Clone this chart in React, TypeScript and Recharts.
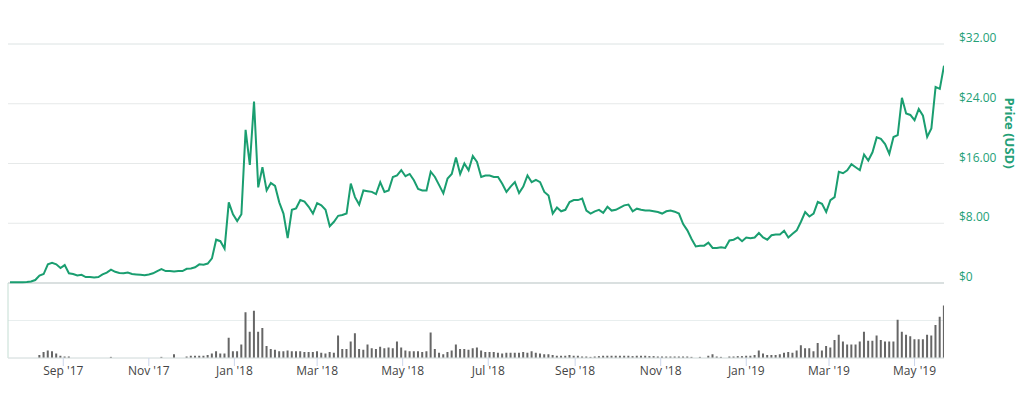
import React from 'react';
import { ComposedChart, Line, Bar, XAxis, YAxis, CartesianGrid, ReferenceLine } from 'recharts';

const DAY = 86400000;
const START = Date.parse('2017-07-25');
const STEP_DAYS = 3;

const prices: number[] = [
  0.1, 0.1, 0.1, 0.1, 0.12, 0.2, 0.4, 1.0, 1.2, 2.5,
  2.7, 2.5, 2.0, 2.4, 1.3, 1.2, 1.0, 1.1, 0.8, 0.8,
  0.75, 0.8, 1.15, 1.4, 1.8, 1.5, 1.35, 1.3, 1.4, 1.2,
  1.15, 1.1, 1.05, 1.15, 1.3, 1.6, 1.85, 1.6, 1.6, 1.55,
  1.6, 1.6, 1.9, 1.95, 2.1, 2.5, 2.45, 2.6, 3.3, 5.8,
  5.6, 4.6, 10.8, 9.2, 8.3, 9.2, 20.5, 15.8, 24.3, 12.8,
  15.5, 12.4, 13.4, 13.0, 10.8, 9.3, 6.0, 9.8, 10.0, 11.1,
  10.9, 10.2, 9.3, 10.7, 10.4, 9.8, 7.6, 8.2, 9.0, 9.1,
  9.3, 13.3, 11.5, 10.5, 12.4, 12.3, 12.2, 11.9, 13.5, 12.2,
  12.4, 14.2, 14.4, 15.1, 14.3, 14.6, 13.75, 12.6, 12.4, 12.4,
  14.9, 14.2, 13.1, 12.0, 14.0, 14.6, 16.8, 14.6, 16.0, 15.1,
  17.0, 16.2, 14.2, 14.4, 14.4, 14.2, 14.2, 13.3, 12.2, 12.9,
  13.5, 12.05, 12.9, 14.4, 13.5, 13.8, 13.5, 12.2, 11.7, 9.3,
  10.1, 9.6, 9.8, 10.85, 11.1, 11.1, 11.3, 9.7, 9.3, 9.6,
  9.8, 9.4, 10.2, 9.7, 9.8, 10.1, 10.4, 10.5, 9.6, 9.95,
  9.8, 9.7, 9.7, 9.6, 9.5, 9.3, 9.6, 9.7, 9.55, 9.3,
  7.9, 7.05, 5.9, 4.9, 5.0, 5.0, 5.4, 4.7, 4.7, 4.8,
  4.7, 5.7, 5.8, 6.1, 5.6, 6.1, 6.0, 6.1, 6.7, 6.1,
  5.8, 6.4, 6.5, 6.5, 7.0, 6.1, 6.6, 7.05, 8.2, 9.5,
  8.9, 9.3, 10.85, 10.6, 9.5, 11.1, 11.5, 14.9, 14.7, 15.1,
  15.9, 15.5, 15.1, 17.2, 16.4, 17.5, 19.5, 19.3, 18.6, 17.3,
  19.55, 19.8, 24.8, 22.7, 22.5, 21.8, 23.3, 22.4, 19.55, 20.7,
  26.25, 26.0, 29.1,
];

const volumes: number[] = [
  0, 0, 0, 0, 0, 0, 0, 4, 8, 10,
  9, 6, 3, 2, 2, 0, 0, 0, 0, 0,
  0, 0, 0, 0, 1.5, 0, 0, 0, 0, 0,
  0, 0, 0, 0, 0, 0, 1.5, 0, 0, 5,
  0, 0, 2, 3, 3, 3, 3, 4, 6, 9,
  6, 6, 27, 9, 9, 18, 61, 35, 63, 35,
  40, 16, 12, 11, 9, 9, 10, 9, 9, 9,
  8, 8, 8, 9, 7, 6, 8, 7, 30, 12,
  12, 22, 33, 12, 11, 18, 13, 12, 15, 13,
  14, 13, 22, 14, 10, 9, 9, 9, 8, 9,
  34, 12, 7, 5, 8, 10, 18, 12, 12, 11,
  13, 14, 10, 8, 8, 8, 7, 6, 7, 7,
  7, 7, 8, 7, 9, 7, 6, 5, 5, 4,
  3, 3, 3, 4, 3, 3, 2, 2, 1.5, 2,
  2.5, 3, 3, 3, 3, 3, 3, 3, 2.5, 3,
  3, 3, 2.5, 2.5, 2, 2, 2, 2, 2, 2,
  2, 2, 1.5, 0, 1.5, 0, 3, 5, 2, 1.5,
  0, 2, 2, 2.5, 2.5, 3, 3, 4, 10, 6,
  4, 4, 4, 5, 7, 8, 7, 10, 17, 13,
  13, 9, 20, 10, 16, 14, 24, 31, 22, 18,
  18, 18, 22, 35, 23, 23, 30, 24, 22, 22,
  22, 51, 35, 31, 29, 25, 25, 25, 31, 30,
  44, 55, 70,
];

const tickDates = [
  '2017-09-01', '2017-11-01', '2018-01-01', '2018-03-01', '2018-05-01', '2018-07-01',
  '2018-09-01', '2018-11-01', '2019-01-01', '2019-03-01', '2019-05-01',
];
const tickLabels = [
  "Sep '17", "Nov '17", "Jan '18", "Mar '18", "May '18", "Jul '18",
  "Sep '18", "Nov '18", "Jan '19", "Mar '19", "May '19",
];
const priceTicks = [0, 8, 16, 24, 32];
const priceTickLabels = ['$0', '$8.00', '$16.00', '$24.00', '$32.00'];
const volumeTicks = [0, 50];

const data = prices.map((p, i) => ({ t: START + i * STEP_DAYS * DAY, price: p, volume: volumes[i] }));
const END = data[data.length - 1].t;
const tickTimes = tickDates.map((d) => Date.parse(d));
const X_DOMAIN: [number, number] = [START - 1.43 * DAY, END];

const GREEN = '#1a9e70';
const LABEL_GREEN = '#24a077';
const FONT = "'Open Sans', 'DejaVu Sans', sans-serif";

const PriceTick = (props: any) => {
  const { x, y, payload } = props;
  const idx = priceTicks.indexOf(payload.value);
  return (
    <text x={x} y={y - 6} dy="0.35em" textAnchor="start" fill={LABEL_GREEN} fontSize={12} fontFamily={FONT}>
      {idx >= 0 ? priceTickLabels[idx] : ''}
    </text>
  );
};

const PriceLabel = (props: any) => {
  const vb = props.viewBox || { x: 944, y: 44 };
  const cx = vb.x + 66;
  const cy = vb.y + 89;
  return (
    <text
      x={cx}
      y={cy}
      transform={`rotate(90, ${cx}, ${cy})`}
      textAnchor="middle"
      dominantBaseline="central"
      fill={LABEL_GREEN}
      fontSize={13}
      fontWeight={700}
      fontFamily={FONT}
    >
      Price (USD)
    </text>
  );
};

export default function App() {
  return (
    <div style={{ position: 'absolute', left: 0, top: 0, width: 1024, height: 397, background: '#fff' }}>
      <ComposedChart
        width={1024}
        height={397}
        data={data}
        margin={{ top: 44, right: 20, bottom: 9, left: 8 }}
        style={{ fontFamily: FONT }}
      >
        <CartesianGrid yAxisId="price" vertical={false} stroke="#e6e9e9" />
        <CartesianGrid yAxisId="vol" vertical={false} stroke="#e8eeee" />
        <XAxis
          dataKey="t"
          type="number"
          domain={X_DOMAIN}
          allowDataOverflow
          ticks={tickTimes}
          interval={0}
          tickFormatter={(v: number) => tickLabels[tickTimes.indexOf(v)] ?? ''}
          tickSize={8}
          tickMargin={0}
          tickLine={{ stroke: '#ccd6eb' }}
          axisLine={{ stroke: '#e0e6e6' }}
          tick={{ fill: '#444', fontSize: 12, fontFamily: FONT }}
          height={30}
        />
        <YAxis
          yAxisId="price"
          orientation="right"
          domain={[-10.04, 32]}
          allowDataOverflow
          ticks={priceTicks}
          interval={0}
          axisLine={false}
          tickLine={false}
          tickSize={6}
          tickMargin={9}
          width={60}
          tick={<PriceTick />}
          label={{ content: <PriceLabel /> } as any}
        />
        <YAxis yAxisId="vol" hide domain={[0, 418.67]} ticks={volumeTicks} allowDataOverflow />
        <ReferenceLine yAxisId="price" y={0} stroke="#d2dada" strokeWidth={1.5} />
        <ReferenceLine
          yAxisId="vol"
          segment={[{ x: X_DOMAIN[0], y: 0 }, { x: X_DOMAIN[0], y: 100 }]}
          stroke="#c4ddd3"
        />
        <Bar yAxisId="vol" dataKey="volume" fill="#666666" barSize={2} isAnimationActive={false} />
        <Line
          yAxisId="price"
          type="linear"
          dataKey="price"
          stroke={GREEN}
          strokeWidth={2}
          dot={false}
          activeDot={false}
          isAnimationActive={false}
        />
      </ComposedChart>
    </div>
  );
}
